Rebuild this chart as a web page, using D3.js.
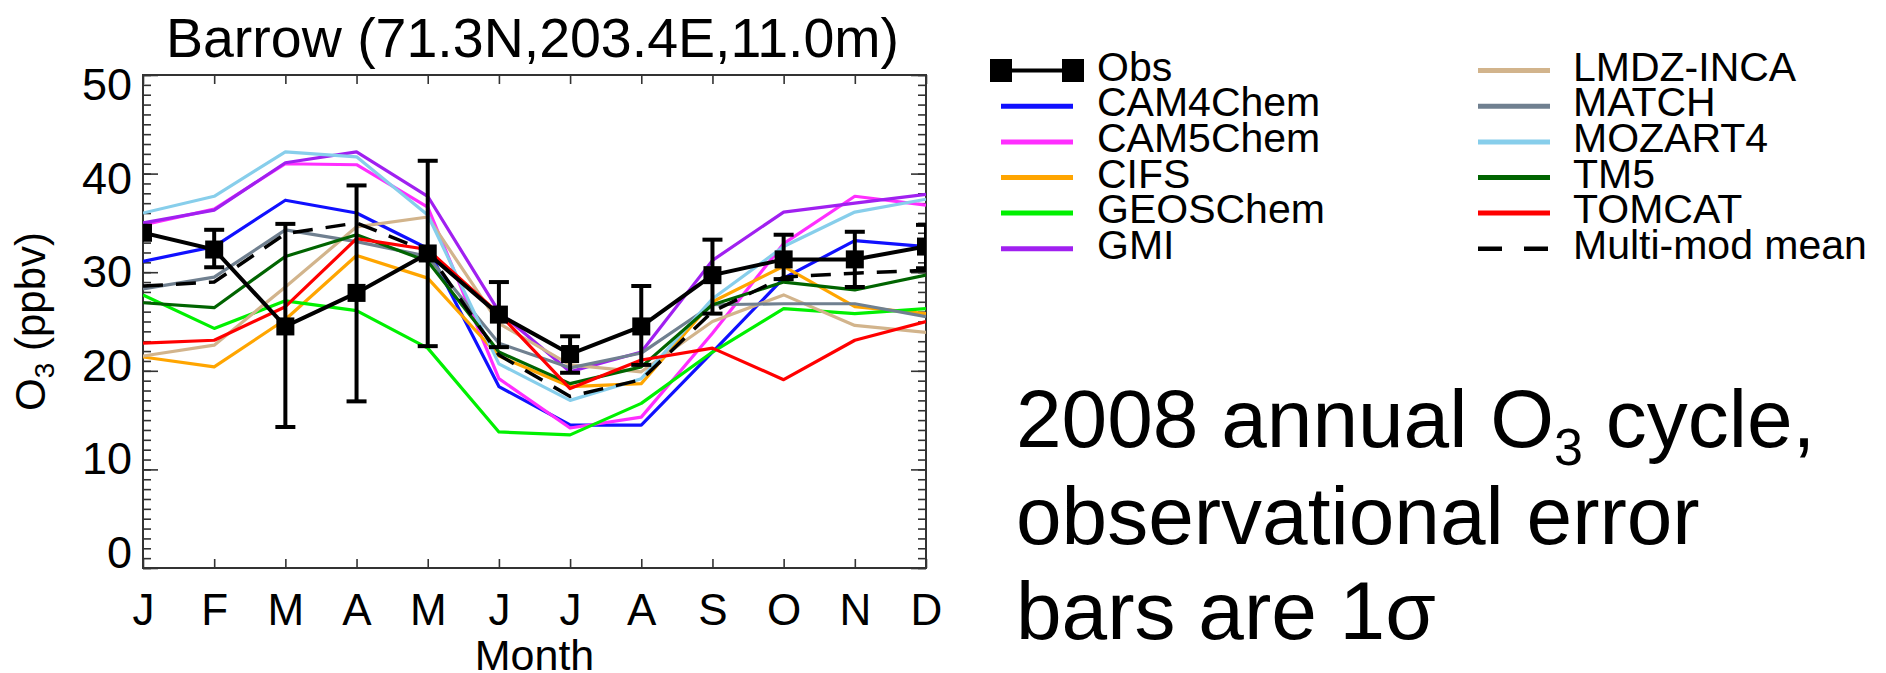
<!DOCTYPE html>
<html>
<head>
<meta charset="utf-8">
<script src="https://cdn.jsdelivr.net/npm/d3@7"></script>
<style>
  html, body { margin: 0; padding: 0; background: #fff; }
  svg { display: block; }
  text { font-family: "Liberation Sans", Arial, Helvetica, sans-serif; fill: #000; }
</style>
</head>
<body>
<svg id="chart" width="1886" height="673"></svg>
<script>
// ---------------- data ----------------
const monthLabels = ["J","F","M","A","M","J","J","A","S","O","N","D"];
const monthIndex  = [1,2,3,4,5,6,7,8,9,10,11,12];
const yTicks = [0,10,20,30,40,50];

const obs     = [34.0, 32.3, 24.5, 27.9, 31.9, 25.7, 21.7, 24.5, 29.7, 31.3, 31.3, 32.6];
const obsHigh = [null, 34.3, 34.9, 38.8, 41.3, 29.0, 23.5, 28.6, 33.3, 33.8, 34.1, 34.8];
const obsLow  = [null, 30.5, 14.3, 16.9, 22.5, 22.4, 19.8, 20.6, 25.8, 29.3, 28.5, 30.4];

const CAM4Chem = [31.1, 32.6, 37.3, 36.0, 32.4, 18.4, 14.5, 14.5, 21.9, 29.4, 33.2, 32.6];
const CAM5Chem = [34.8, 36.4, 41.0, 40.9, 36.6, 19.2, 14.2, 15.3, 23.8, 32.9, 37.7, 36.8];
const CIFS     = [21.4, 20.4, 25.2, 31.7, 29.4, 21.5, 18.4, 18.7, 27.0, 30.6, 26.5, 25.8];
const GEOSChem = [27.7, 24.3, 27.1, 26.1, 22.3, 13.8, 13.5, 16.7, 21.9, 26.3, 25.8, 26.3];
const GMI      = [35.0, 36.3, 41.1, 42.2, 37.7, 26.0, 19.9, 21.9, 31.2, 36.1, 37.0, 37.9];
const LMDZINCA = [21.5, 22.6, 28.5, 34.6, 35.6, 24.8, 20.6, 19.9, 25.0, 27.7, 24.6, 23.9];
const MATCH    = [28.3, 29.5, 34.3, 33.1, 31.6, 22.8, 20.3, 21.8, 26.7, 26.8, 26.8, 25.5];
const MOZART4  = [36.0, 37.7, 42.2, 41.7, 35.8, 20.7, 17.0, 19.2, 27.3, 32.6, 36.1, 37.4];
const TM5      = [26.9, 26.4, 31.6, 33.8, 31.1, 21.9, 18.7, 20.4, 26.7, 29.0, 28.2, 29.7];
const TOMCAT   = [22.8, 23.1, 26.5, 33.4, 32.3, 25.8, 18.2, 21.1, 22.3, 19.1, 23.1, 25.0];
const multiModMean = [28.6, 29.0, 33.9, 35.0, 32.1, 21.6, 17.4, 19.1, 26.0, 29.5, 29.9, 30.2];

const modelNames  = ["CAM4Chem","CAM5Chem","CIFS","GEOSChem","GMI","LMDZ-INCA","MATCH","MOZART4","TM5","TOMCAT"];
const modelValues = [CAM4Chem, CAM5Chem, CIFS, GEOSChem, GMI, LMDZINCA, MATCH, MOZART4, TM5, TOMCAT];
const modelColors = ["#1010ff","#ff2eff","#ffa500","#00f000","#a020f0","#d2b48c","#708090","#87ceeb","#006400","#ff0000"];

const titleText = "Barrow (71.3N,203.4E,11.0m)";
const xLabelText = "Month";

// ---------------- layout ----------------
const svg = d3.select("#chart");
const L = 143, R = 926, T = 75, B = 568;

const x = d3.scaleLinear().domain([1, 12]).range([L, R]);
const y = d3.scaleLinear().domain([0, 50]).range([B, T]);

svg.append("defs").append("clipPath").attr("id", "plotclip")
  .append("rect").attr("x", L).attr("y", T).attr("width", R - L).attr("height", B - T);

// ---------------- axes ----------------
const axisColor = "#333";
function styleAxis(g) {
  g.select(".domain").remove();
  g.selectAll(".tick line").attr("stroke", axisColor).attr("stroke-width", 1.6);
}

// minor y ticks (left & right)
svg.append("g").attr("transform", `translate(${L},0)`)
  .call(d3.axisLeft(y).tickValues(d3.range(0, 51, 1)).tickSize(-8).tickFormat(""))
  .call(styleAxis);
svg.append("g").attr("transform", `translate(${R},0)`)
  .call(d3.axisRight(y).tickValues(d3.range(0, 51, 1)).tickSize(-8).tickFormat(""))
  .call(styleAxis);

// major y ticks with labels
const yAxisG = svg.append("g").attr("transform", `translate(${L},0)`)
  .call(d3.axisLeft(y).tickValues(yTicks).tickSize(-15).tickPadding(11).tickFormat(d3.format("d")))
  .call(styleAxis);
yAxisG.selectAll(".tick text")
  .attr("font-size", 45)
  .attr("font-family", "Liberation Sans, Arial, sans-serif")
  .attr("fill", "#000")
  .attr("y", d => -15 + 0.5 * d);
svg.append("g").attr("transform", `translate(${R},0)`)
  .call(d3.axisRight(y).tickValues(yTicks).tickSize(-15).tickFormat(""))
  .call(styleAxis);

// x axis bottom with labels
const xAxisG = svg.append("g").attr("transform", `translate(0,${B})`)
  .call(d3.axisBottom(x).tickValues(monthIndex).tickSize(-9).tickPadding(26)
        .tickFormat(d => monthLabels[d - 1]))
  .call(styleAxis);
xAxisG.selectAll(".tick text")
  .attr("font-size", 44)
  .attr("font-family", "Liberation Sans, Arial, sans-serif")
  .attr("fill", "#000");
// x axis top
svg.append("g").attr("transform", `translate(0,${T})`)
  .call(d3.axisTop(x).tickValues(monthIndex).tickSize(-9).tickFormat(""))
  .call(styleAxis);

// frame
svg.append("rect").attr("x", L).attr("y", T).attr("width", R - L).attr("height", B - T)
  .attr("fill", "none").attr("stroke", axisColor).attr("stroke-width", 2);

// ---------------- lines ----------------
const plot = svg.append("g").attr("clip-path", "url(#plotclip)");
const line = d3.line().x((d, i) => x(monthIndex[i])).y(d => y(d));

modelValues.forEach((vals, k) => {
  plot.append("path").datum(vals)
    .attr("d", line)
    .attr("fill", "none")
    .attr("stroke", modelColors[k])
    .attr("stroke-width", 3.2)
    .attr("stroke-linejoin", "round");
});

plot.append("path").datum(multiModMean)
  .attr("d", line)
  .attr("fill", "none")
  .attr("stroke", "#000")
  .attr("stroke-width", 3.5)
  .attr("stroke-dasharray", "20,13");

// obs error bars
const errData = monthIndex.map((m, i) => ({m, lo: obsLow[i], hi: obsHigh[i]})).filter(d => d.lo !== null);
const errG = plot.append("g").attr("stroke", "#000").attr("stroke-width", 4);
errG.selectAll("line.v").data(errData).join("line")
  .attr("x1", d => x(d.m)).attr("x2", d => x(d.m))
  .attr("y1", d => y(d.lo)).attr("y2", d => y(d.hi));
errG.selectAll("line.hi").data(errData).join("line")
  .attr("x1", d => x(d.m) - 10).attr("x2", d => x(d.m) + 10)
  .attr("y1", d => y(d.hi)).attr("y2", d => y(d.hi));
errG.selectAll("line.lo").data(errData).join("line")
  .attr("x1", d => x(d.m) - 10).attr("x2", d => x(d.m) + 10)
  .attr("y1", d => y(d.lo)).attr("y2", d => y(d.lo));

plot.append("path").datum(obs)
  .attr("d", line)
  .attr("fill", "none")
  .attr("stroke", "#000")
  .attr("stroke-width", 4);

plot.selectAll("rect.obs").data(obs).join("rect")
  .attr("x", (d, i) => x(monthIndex[i]) - 9)
  .attr("y", d => y(d) - 9)
  .attr("width", 18).attr("height", 18)
  .attr("fill", "#000");

// ---------------- text ----------------
svg.append("text").attr("x", (L + R) / 2 - 2).attr("y", 57)
  .attr("text-anchor", "middle").attr("font-size", 55.5).text(titleText);

svg.append("text").attr("x", (L + R) / 2).attr("y", 670)
  .attr("text-anchor", "middle").attr("font-size", 43).text(xLabelText);

const yl = svg.append("text").attr("transform", `translate(45,${(T + B) / 2}) rotate(-90)`)
  .attr("text-anchor", "middle").attr("font-size", 42);
yl.append("tspan").text("O");
yl.append("tspan").attr("font-size", 28).attr("dy", 9).text("3");
yl.append("tspan").attr("dy", -9).text(" (ppbv)");

// ---------------- legend ----------------
const legRows = [70.5, 106.3, 141.9, 177.5, 213.1, 248.7];
const legFont = 41;
const col1 = {x1: 1001, x2: 1073, tx: 1097};
const col2 = {x1: 1478, x2: 1550, tx: 1573};
const leg = svg.append("g");

// Obs entry
leg.append("line").attr("x1", col1.x1).attr("x2", col1.x2)
  .attr("y1", legRows[0]).attr("y2", legRows[0])
  .attr("stroke", "#000").attr("stroke-width", 4);
[col1.x1, col1.x2].forEach(cx => {
  leg.append("rect").attr("x", cx - 11).attr("y", legRows[0] - 11.5)
    .attr("width", 22).attr("height", 23).attr("fill", "#000");
});
leg.append("text").attr("x", col1.tx).attr("y", legRows[0] + 10)
  .attr("font-size", legFont).text("Obs");

modelNames.forEach((name, k) => {
  const col = k < 5 ? col1 : col2;
  const ry = k < 5 ? legRows[k + 1] : legRows[k - 5];
  leg.append("line").attr("x1", col.x1).attr("x2", col.x2)
    .attr("y1", ry).attr("y2", ry)
    .attr("stroke", modelColors[k]).attr("stroke-width", 5);
  leg.append("text").attr("x", col.tx).attr("y", ry + 10)
    .attr("font-size", legFont).text(name);
});
leg.append("line").attr("x1", col2.x1).attr("x2", col2.x2)
  .attr("y1", legRows[5]).attr("y2", legRows[5])
  .attr("stroke", "#000").attr("stroke-width", 4.5)
  .attr("stroke-dasharray", "24,22");
leg.append("text").attr("x", col2.tx).attr("y", legRows[5] + 10)
  .attr("font-size", legFont).text("Multi-mod mean");

// ---------------- annotation ----------------
const ann = svg.append("g").attr("font-size", 82);
const a1 = ann.append("text").attr("x", 1016).attr("y", 447);
a1.append("tspan").text("2008 annual O");
a1.append("tspan").attr("font-size", 52).attr("dy", 18).text("3");
a1.append("tspan").attr("dy", -18).text(" cycle,");
ann.append("text").attr("x", 1016).attr("y", 544).text("observational error");
ann.append("text").attr("x", 1016).attr("y", 639).text("bars are 1σ");
</script>
</body>
</html>
